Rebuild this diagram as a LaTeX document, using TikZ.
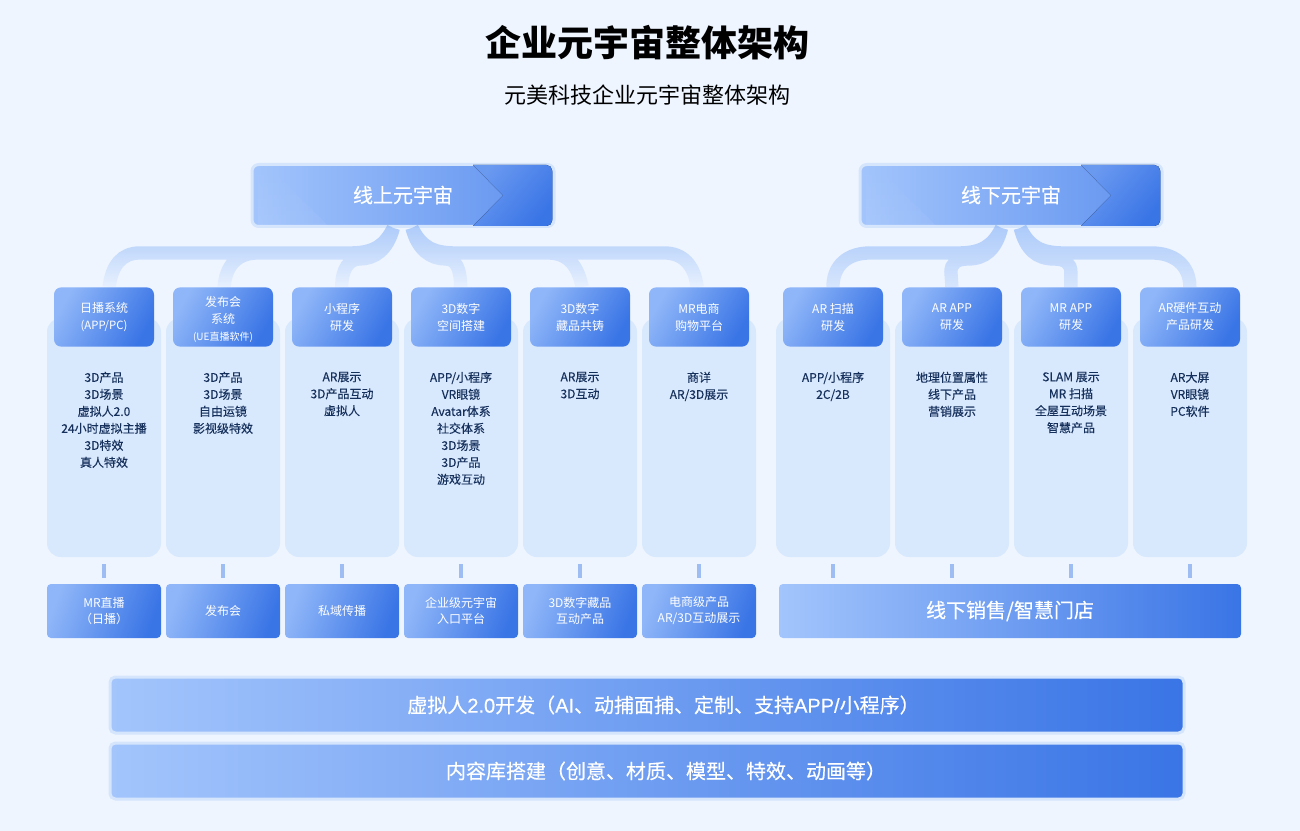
\documentclass[tikz,border=0pt]{standalone}
\usepackage{fontspec}
\setmainfont{Noto Sans CJK SC}
\newfontfamily\mediumfont[FakeBold=0.35]{Noto Sans CJK SC}
\newfontfamily\bodyfont[FakeBold=0.12]{Noto Sans CJK SC}
\newfontfamily\latinrun[FakeBold=0.35]{Liberation Sans}
\newcommand{\smallnote}[2][7.5]{{\fontsize{#1}{9}\selectfont #2}}
\usetikzlibrary{fadings}
\definecolor{pagebg}{HTML}{EEF5FF}
\definecolor{collight}{HTML}{D8E8FD}
\definecolor{rimblue}{HTML}{D5E5FC}
\definecolor{lightblue}{HTML}{A3C5FC}
\definecolor{headlight}{HTML}{8FB6F8}
\definecolor{deepblue}{HTML}{3A75E6}
\definecolor{midblue}{HTML}{5F91EE}
\definecolor{chevronblue}{HTML}{6A99F0}
\definecolor{tickblue}{HTML}{9DBDF3}
\definecolor{linkblue}{HTML}{93BAF8}
\definecolor{navy}{HTML}{16305C}
\tikzfading[name=onlinefade, top color=transparent!25, middle color=transparent!62, bottom color=transparent!100]
\tikzfading[name=offlinefade, top color=transparent!25, middle color=transparent!58, bottom color=transparent!80]
\tikzfading[name=glowfade, top color=transparent!100, bottom color=transparent!94]
\tikzset{
    x=0.75pt, y=-0.75pt,
    title/.style={font=\fontsize{27}{32}\selectfont\bfseries, text=black, inner sep=0},
    subtitle/.style={font=\fontsize{16.5}{20}\selectfont, text=black, inner sep=0},
    topbox/.style={rounded corners=5pt, draw=rimblue, line width=2.25pt, left color=lightblue, right color=midblue, minimum width=226.5pt, minimum height=46.5pt, inner sep=0},
    toptext/.style={font=\mediumfont\fontsize{15}{18}\selectfont, text=white, inner sep=0},
    colbox/.style={rounded corners=10.5pt, fill=collight, minimum width=85.5pt, minimum height=179.25pt, inner sep=0},
    headbox/.style={rounded corners=5.5pt, left color=headlight, right color=deepblue, shading angle=60, minimum width=75pt, minimum height=44.5pt, inner sep=0, align=center, text=white, font=\fontsize{9}{12.75}\selectfont},
    coltext/.style={anchor=north, inner sep=0, align=center, text=navy, font=\bodyfont\fontsize{9}{12.75}\selectfont},
    footbox/.style={rounded corners=3pt, left color=headlight, right color=deepblue, shading angle=70, minimum width=85.5pt, minimum height=40.5pt, inner sep=0, align=center, text=white, font=\fontsize{9}{12}\selectfont},
    bigfoot/.style={rounded corners=3pt, left color=lightblue, right color=deepblue, minimum width=346.5pt, minimum height=40.5pt, inner sep=0, text=white, font=\mediumfont\fontsize{15}{18}\selectfont},
    barbox/.style={rounded corners=4pt, draw=rimblue, line width=2.25pt, left color=lightblue, right color=deepblue, minimum width=805.5pt, minimum height=42pt, inner sep=0, text=white, font=\mediumfont\fontsize{15}{18}\selectfont},
    onlinelink/.style={draw=linkblue, line width=10pt, path fading=onlinefade},
    offlinelink/.style={draw=linkblue, line width=10pt, path fading=offlinefade},
    tick/.style={draw=tickblue, line width=3pt, shorten <=5.25pt, shorten >=4.5pt},
    chevron/.style={left color=chevronblue, right color=deepblue, shading angle=50},
    glow/.style={fill=white, path fading=glowfade},
}
\begin{document}
\begin{tikzpicture}
\useasboundingbox (0,0) rectangle (1300,831);
\fill[pagebg] (0,0) rectangle (1300,831);

\node[title] (maintitle) at (647,43) {企业元宇宙整体架构};
\node[subtitle] (subhead) at (647,95) {元美科技企业元宇宙整体架构};

\node[topbox] (online) at (403,195.5) {};
\node[topbox] (offline) at (1011,195.5) {};
\fill[glow] (267,165) -- (328,226) -- (258,226) -- (258,165) -- cycle;
\fill[glow] (875,165) -- (936,226) -- (866,226) -- (866,165) -- cycle;
\fill[chevron] (473,165) -- (503,195.5) -- (473,226) [rounded corners=4pt] -- (552,226) -- (552,165) [sharp corners] -- cycle;
\fill[chevron] (1081,165) -- (1111,195.5) -- (1081,226) [rounded corners=4pt] -- (1160,226) -- (1160,165) [sharp corners] -- cycle;
\node[toptext] (onlinetext) at (403,195) {线上元宇宙};
\node[toptext] (offlinetext) at (1011,195) {线下元宇宙};

\node[colbox] (col1) at (104,437.5) {};
\node[colbox] (col2) at (223,437.5) {};
\node[colbox] (col3) at (342,437.5) {};
\node[colbox] (col4) at (461,437.5) {};
\node[colbox] (col5) at (580,437.5) {};
\node[colbox] (col6) at (699,437.5) {};
\node[colbox] (col7) at (833,437.5) {};
\node[colbox] (col8) at (952,437.5) {};
\node[colbox] (col9) at (1071,437.5) {};
\node[colbox] (col10) at (1190,437.5) {};

\node[headbox] (head1) at (104,317) {日播系统\\\smallnote[8.5]{(APP/PC)}};
\node[headbox] (head2) at (223,317) {\rule{0pt}{11.5pt}发布会\\系统\\\smallnote{(UE直播软件)}};
\node[headbox] (head3) at (342,317) {小程序\\研发};
\node[headbox] (head4) at (461,317) {3D数字\\空间搭建};
\node[headbox] (head5) at (580,317) {3D数字\\藏品共铸};
\node[headbox] (head6) at (699,317) {MR电商\\购物平台};
\node[headbox] (head7) at (833,317) {AR 扫描\\研发};
\node[headbox] (head8) at (952,317) {AR APP\\研发};
\node[headbox] (head9) at (1071,317) {MR APP\\研发};
\node[headbox] (head10) at (1190,317) {AR硬件互动\\产品研发};

\node[coltext] (text1) at (104,371.5) {3D产品\\3D场景\\虚拟人2.0\\24小时虚拟主播\\3D特效\\真人特效};
\node[coltext] (text2) at (223,371.5) {3D产品\\3D场景\\自由运镜\\影视级特效};
\node[coltext] (text3) at (342,371.5) {AR展示\\3D产品互动\\虚拟人};
\node[coltext] (text4) at (461,371.5) {APP/小程序\\VR眼镜\\Avatar体系\\社交体系\\3D场景\\3D产品\\游戏互动};
\node[coltext] (text5) at (580,371.5) {AR展示\\3D互动};
\node[coltext] (text6) at (699,371.5) {商详\\AR/3D展示};
\node[coltext] (text7) at (833,371.5) {APP/小程序\\2C/2B};
\node[coltext] (text8) at (952,371.5) {地理位置属性\\线下产品\\营销展示};
\node[coltext] (text9) at (1071,371.5) {SLAM 展示\\MR 扫描\\全屋互动场景\\智慧产品};
\node[coltext] (text10) at (1190,371.5) {AR大屏\\VR眼镜\\PC软件};

\node[footbox] (foot1) at (104,611) {MR直播\\（日播）};
\node[footbox] (foot2) at (223,611) {发布会};
\node[footbox] (foot3) at (342,611) {私域传播};
\node[footbox] (foot4) at (461,611) {企业级元宇宙\\入口平台};
\node[footbox] (foot5) at (580,611) {3D数字藏品\\互动产品};
\node[footbox] (foot6) at (699,611) {电商级产品\\AR/3D互动展示};
\node[bigfoot] (foot7) at (1010,611) {\raisebox{-.75pt}{线下销售/智慧门店}};

\node[barbox] (avatarbar) at (647,705) {\hspace*{24.75pt}\raisebox{-.75pt}{虚拟人{\latinrun 2.0}开发（{\latinrun AI}、动捕面捕、定制、支持{\latinrun APP/}小程序）}};
\node[barbox] (contentbar) at (647,771) {\hspace*{28.5pt}\raisebox{-.75pt}{内容库搭建（创意、材质、模型、特效、动画等）}};

\coordinate (onleft) at ([xshift=-7pt]online.south);
\coordinate (onright) at ([xshift=7pt]online.south);
\coordinate (offleft) at ([xshift=-7pt]offline.south);
\coordinate (offright) at ([xshift=7pt]offline.south);

\draw[onlinelink] (onleft) .. controls (385,245) and (375,253) .. (350,253) -- (140,253) .. controls (122,253) and (112,265) .. ([xshift=4pt]head1.north)
    (258,253) .. controls (238,253) and (226,265) .. ([xshift=1pt]head2.north)
    (onleft) .. controls (388,250) and (375,259) .. (360,259) .. controls (350,259) and (342,268) .. (head3.north)
    (onright) .. controls (418,250) and (431,259) .. (446,259) .. controls (456,259) and (461,268) .. (head4.north)
    (onright) .. controls (421,245) and (431,253) .. (456,253) -- (665,253) .. controls (683,253) and (695,265) .. ([xshift=-1pt]head6.north)
    (548,253) .. controls (568,253) and (578,265) .. ([xshift=2pt]head5.north);

\draw[offlinelink] (offleft) .. controls (993,245) and (983,253) .. (958,253) -- (870,253) .. controls (848,253) and (833,265) .. (head7.north)
    (offleft) .. controls (996,250) and (985,259) .. (968,259) .. controls (956,259) and (951,264) .. (951,272) -- (head8.north)
    (offright) .. controls (1026,250) and (1037,259) .. (1054,259) .. controls (1066,259) and (1071,264) .. (1071,272) -- (head9.north)
    (offright) .. controls (1029,245) and (1039,253) .. (1064,253) -- (1152,253) .. controls (1174,253) and (1190,265) .. (head10.north);

\draw[tick] (col1.south) -- (foot1.north);
\draw[tick] (col2.south) -- (foot2.north);
\draw[tick] (col3.south) -- (foot3.north);
\draw[tick] (col4.south) -- (foot4.north);
\draw[tick] (col5.south) -- (foot5.north);
\draw[tick] (col6.south) -- (foot6.north);
\draw[tick] (col7.south) -- (foot7.north -| col7.south);
\draw[tick] (col8.south) -- (foot7.north -| col8.south);
\draw[tick] (col9.south) -- (foot7.north -| col9.south);
\draw[tick] (col10.south) -- (foot7.north -| col10.south);
\end{tikzpicture}
\end{document}
